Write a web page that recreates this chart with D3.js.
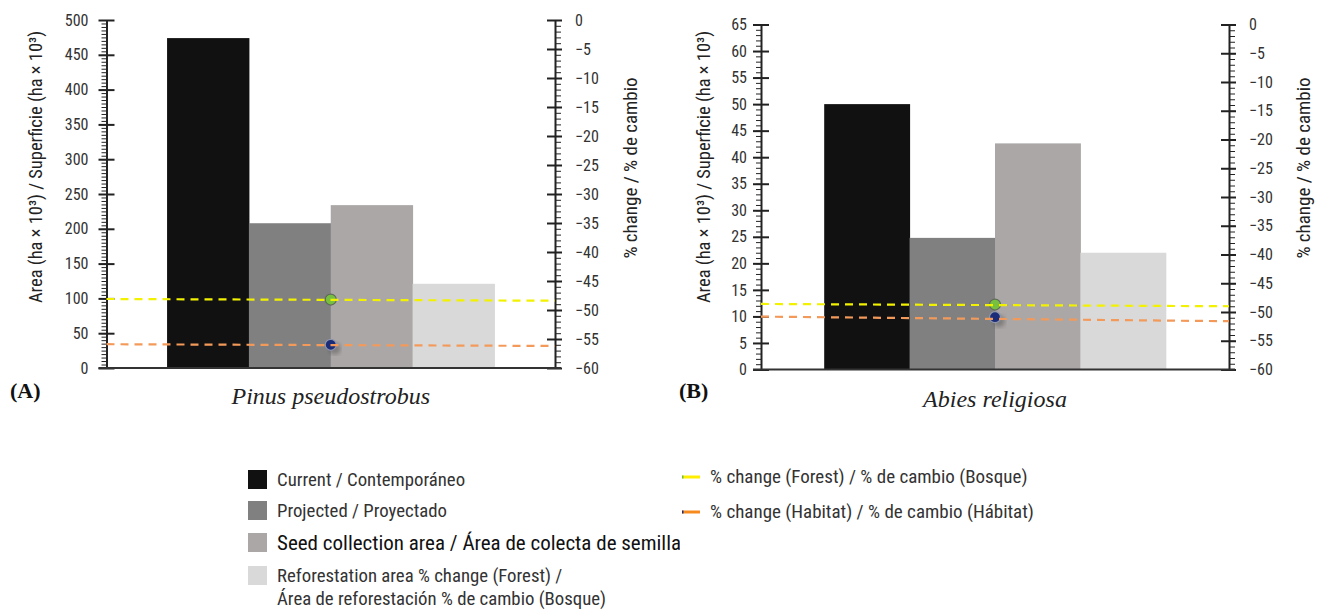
<!DOCTYPE html>
<html>
<head>
<meta charset="utf-8">
<script src="https://cdn.jsdelivr.net/npm/d3@7"></script>
<style>
  body { margin: 0; background: #fff; }
  svg text { font-family: "Liberation Sans Narrow", "Roboto Condensed", "Liberation Sans", sans-serif; }
  .serif { font-family: "Liberation Serif", "DejaVu Serif", serif !important; }
</style>
</head>
<body>
<svg id="chart" width="1317" height="610"></svg>
<script>
// categories (bars) and legend labels
var categories = ["Current", "Projected", "Seed", "Reforestation"];
var legendLabels = [
  ["Current / Contemporáneo"],
  ["Projected / Proyectado"],
  ["Seed collection area / Área de colecta de semillas"],
  ["Reforestation area % change (Forest) /", "Área de reforestación % de cambio (Bosque)"]
];
var barColors = ["#111111", "#808080", "#aba7a6", "#d9d9d9"];

// (A) Pinus pseudostrobus
var pinusArea = [474, 208, 234, 121];
var pinusForestLine = [-48.1, -48.4];
var pinusHabitatLine = [-55.9, -56.2];
var pinusForestPoint = -48.2;
var pinusHabitatPoint = -56.0;

// (B) Abies religiosa
var abiesArea = [50, 24.8, 42.6, 22];
var abiesForestLine = [-48.6, -49.0];
var abiesHabitatLine = [-50.8, -51.6];
var abiesForestPoint = -48.7;
var abiesHabitatPoint = -50.9;

// tick values
var pinusTicks = d3.range(0, 501, 50);
var abiesTicks = d3.range(0, 66, 5);
var pctTicks = d3.range(-60, 1, 5);

var forestColor = "#f2f200";
var habitatColor = "#f39a5b";

var svg = d3.select("#chart");

var defs = svg.append("defs");
defs.append("filter").attr("id", "shadow")
  .append("feGaussianBlur").attr("stdDeviation", 2);
defs.append("clipPath").attr("id", "legclip")
  .append("rect").attr("x", 0).attr("y", 440).attr("width", 680).attr("height", 170);

function drawPanel(p) {
  var w = p.right - p.left;
  var g = svg.append("g").attr("transform", "translate(" + p.left + "," + p.top + ")");
  var h = p.bottom - p.top;

  var x = d3.scaleBand().domain(categories).range([0, w]).paddingInner(0).paddingOuter(0.74);
  var y = d3.scaleLinear().domain([0, p.max]).range([h, 0]);
  var yp = d3.scaleLinear().domain([-60, 0]).range([h, 0]);

  // bars
  g.selectAll(".bar")
    .data(p.area)
    .enter()
    .append("rect")
    .attr("x", function (d, i) { return x(categories[i]); })
    .attr("y", function (d) { return y(d); })
    .attr("width", x.bandwidth() + 0.5)
    .attr("height", function (d) { return h - y(d); })
    .attr("fill", function (d, i) { return barColors[i]; });

  // left axis: minor ticks
  var minorL = d3.range(0, p.max + 0.001, p.minorStep);
  g.append("g")
    .call(d3.axisLeft(y).tickValues(minorL).tickSize(5).tickFormat(""))
    .call(function (a) { a.select(".domain").remove(); a.selectAll("line").attr("stroke", "#222"); });
  // left axis: major ticks + labels
  g.append("g")
    .call(d3.axisLeft(y).tickValues(p.ticks).tickSizeInner(8).tickSizeOuter(0).tickPadding(p.padL))
    .call(function (a) {
      a.select(".domain").attr("stroke", "#222").attr("stroke-width", 2);
      a.selectAll(".tick line").attr("x1", 8).attr("stroke", "#222").attr("stroke-width", 2);
      a.selectAll("text").attr("font-size", 16).attr("fill", "#333");
    });

  // right axis
  var rg = g.append("g").attr("transform", "translate(" + w + ",0)");
  rg.append("g")
    .call(d3.axisRight(yp).tickValues(d3.range(-60, 0.001, 1)).tickSize(6).tickFormat(""))
    .call(function (a) { a.select(".domain").remove(); a.selectAll("line").attr("stroke", "#222"); });
  rg.append("g")
    .call(d3.axisRight(yp).tickValues(pctTicks).tickSizeInner(7).tickSizeOuter(0).tickPadding(13))
    .call(function (a) {
      a.select(".domain").attr("stroke", "#222").attr("stroke-width", 2);
      a.selectAll(".tick line").attr("x1", -8).attr("stroke", "#222").attr("stroke-width", 2);
      a.selectAll("text").attr("font-size", 16).attr("fill", "#333");
    });

  // baseline
  g.append("line")
    .attr("x1", -8).attr("x2", w + 6)
    .attr("y1", h).attr("y2", h)
    .attr("stroke", "#333").attr("stroke-width", 2);

  // points at projected / seed boundary
  var px = x(categories[2]);
  g.append("circle").attr("cx", px + 4).attr("cy", yp(p.habitatPoint) + 4).attr("r", 6)
    .attr("fill", "#555").attr("opacity", 0.5).attr("filter", "url(#shadow)");
  g.append("circle").attr("cx", px).attr("cy", yp(p.forestPoint)).attr("r", 5.5)
    .attr("fill", "#76bf3f").attr("stroke", "#5f6a58").attr("stroke-width", 1.2);
  g.append("circle").attr("cx", px).attr("cy", yp(p.habitatPoint)).attr("r", 5.5)
    .attr("fill", "#1b2d78").attr("stroke", "#9096ad").attr("stroke-width", 1.2);

  // dashed change lines
  var line = d3.line().x(function (d, i) { return i * w; }).y(function (d) { return yp(d); });
  g.append("path").datum(p.forestLine).attr("d", line)
    .attr("fill", "none").attr("stroke", forestColor).attr("stroke-width", 2.2)
    .attr("stroke-dasharray", "8,6");
  g.append("path").datum(p.habitatLine).attr("d", line)
    .attr("fill", "none").attr("stroke", habitatColor).attr("stroke-width", 2.2)
    .attr("stroke-dasharray", "8,6");

  // axis titles
  g.append("text")
    .attr("transform", "translate(" + p.titleL + "," + (167 - p.top) + ")rotate(-90)")
    .attr("text-anchor", "middle").attr("font-size", 18.5).attr("fill", "#222")
    .text("Area (ha × 10³) / Superficie (ha × 10³)");
  g.append("text")
    .attr("transform", "translate(" + (w + p.titleR) + "," + (168 - p.top) + ")rotate(-90)")
    .attr("text-anchor", "middle").attr("font-size", 19).attr("fill", "#222")
    .text("% change / % de cambio");

  // panel letter and species name
  svg.append("text").attr("class", "serif")
    .attr("x", p.letterX).attr("y", 398)
    .attr("font-size", 22).attr("font-weight", "bold").attr("fill", "#111")
    .text(p.letter);
  svg.append("text").attr("class", "serif")
    .attr("x", p.left + w / 2).attr("y", p.speciesY)
    .attr("text-anchor", "middle").attr("font-size", 24).attr("font-style", "italic").attr("fill", "#222")
    .text(p.species);
}

drawPanel({
  left: 106.5, right: 555, top: 20, bottom: 368,
  max: 500, minorStep: 5, ticks: pinusTicks, padL: 10,
  area: pinusArea,
  forestLine: pinusForestLine, habitatLine: pinusHabitatLine,
  forestPoint: pinusForestPoint, habitatPoint: pinusHabitatPoint,
  titleL: -64.5, titleR: 82,
  letter: "(A)", letterX: 10, species: "Pinus pseudostrobus", speciesY: 404
});

drawPanel({
  left: 761, right: 1229, top: 24.5, bottom: 369.5,
  max: 65, minorStep: 1, ticks: abiesTicks, padL: 6,
  area: abiesArea,
  forestLine: abiesForestLine, habitatLine: abiesHabitatLine,
  forestPoint: abiesForestPoint, habitatPoint: abiesHabitatPoint,
  titleL: -51, titleR: 81,
  letter: "(B)", letterX: 679, species: "Abies religiosa", speciesY: 407
});

// legend: bars
var legY = [480, 511, 544, 576];
var legSize = [18.8, 18.8, 21, 18.8];
var leg = svg.append("g");
legendLabels.forEach(function (lines, i) {
  leg.append("rect")
    .attr("x", 248).attr("y", legY[i] - 10 + (i == 2 ? -1 : 0))
    .attr("width", 19).attr("height", 19)
    .attr("fill", barColors[i]);
  var t = leg.append("text")
    .attr("x", 277).attr("y", legY[i] + 6)
    .attr("font-size", legSize[i])
    .attr("fill", i == 2 ? "#111" : "#333")
    .attr("clip-path", "url(#legclip)");
  lines.forEach(function (s, j) {
    t.append("tspan").attr("x", 277).attr("dy", j == 0 ? 0 : 23).text(s);
  });
});

// legend: lines
var lineLegend = [
  { label: "% change (Forest) / % de cambio (Bosque)", color: "#ffee00", tip: "#6abf3f", y: 477 },
  { label: "% change (Habitat) / % de cambio (Hábitat)", color: "#f68a1f", tip: "#1b2d78", y: 512 }
];
lineLegend.forEach(function (d) {
  leg.append("line").attr("x1", 682).attr("x2", 700).attr("y1", d.y).attr("y2", d.y)
    .attr("stroke", d.color).attr("stroke-width", 3);
  leg.append("line").attr("x1", 682).attr("x2", 683.5).attr("y1", d.y).attr("y2", d.y)
    .attr("stroke", d.tip).attr("stroke-width", 3);
  leg.append("text").attr("x", 710).attr("y", d.y + 6)
    .attr("font-size", 19).attr("fill", "#333").text(d.label);
});
</script>
</body>
</html>
